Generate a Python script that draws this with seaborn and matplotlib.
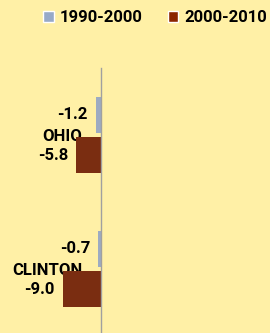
import pandas as pd
import matplotlib
matplotlib.use("Agg")
import matplotlib.pyplot as plt
import seaborn as sns
from matplotlib.patches import Patch

# Données : variation de population (%)
comtes = ['OHIO', 'CLINTON']
periodes = ['1990-2000', '2000-2010']
var_1990_2000 = [-1.2, -0.7]
var_2000_2010 = [-5.8, -9.0]

df = pd.DataFrame({
    'Comte': comtes * 2,
    'Periode': [periodes[0]] * 2 + [periodes[1]] * 2,
    'Variation': var_1990_2000 + var_2000_2010,
})

couleurs = {'1990-2000': '#97A9C8', '2000-2010': '#8B2500'}
fond = '#FFF0A6'
taille = 12

sns.set_theme(style="white")
plt.rcParams['font.family'] = ['Roboto', 'DejaVu Sans']
plt.rcParams['text.color'] = 'black'
plt.rcParams['ytick.color'] = 'black'

fig = plt.figure(figsize=(2.7, 3.33), dpi=100, facecolor=fond)
ax = fig.add_axes([0, 0, 1, 265 / 333])
ax.set_facecolor(fond)

sns.barplot(data=df, y='Comte', x='Variation', hue='Periode', order=comtes,
            hue_order=periodes, palette=couleurs, orient='h', width=0.604,
            gap=0.11, legend=False, linewidth=0, edgecolor='none', ax=ax)

ax.set_xlim(-23.8, 39.8)
ax.set_ylim(1.478, -0.5)

for c in ax.containers:
    ax.bar_label(c, fmt='%.1f', padding=5.8, fontsize=taille,
                 fontweight='bold', color='black')

for s in ['top', 'right', 'bottom']:
    ax.spines[s].set_visible(False)
ax.spines['left'].set_position(('data', 0))
ax.spines['left'].set_color('#A0A0A0')
ax.spines['left'].set_linewidth(1)
ax.set_xticks([])
ax.tick_params(axis='y', length=0, pad=13.7, labelcolor='black')
for lab in ax.get_yticklabels():
    lab.set_fontweight('bold')
    lab.set_fontsize(taille)
ax.set_xlabel('')
ax.set_ylabel('')

handles = [Patch(facecolor=couleurs[p], label=p) for p in periodes]
fig.legend(handles=handles, loc='center', bbox_to_anchor=(0.574, 1 - 18 / 333),
           ncol=2, frameon=False, handlelength=0.65, handleheight=0.65,
           handletextpad=0.35, columnspacing=1.5, borderpad=0.2,
           labelcolor='black', prop={'weight': 'bold', 'size': taille})

fig.savefig('out.png', dpi=100, facecolor=fond)
